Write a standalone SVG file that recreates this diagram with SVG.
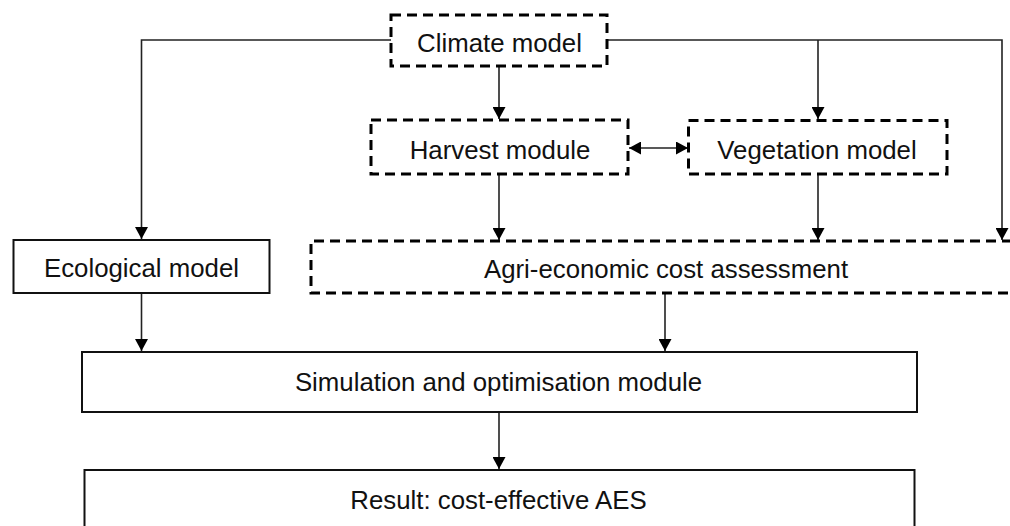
<svg xmlns="http://www.w3.org/2000/svg" width="1010" height="526" viewBox="0 0 1010 526">
<style>
.lbl{font-family:"Liberation Sans",Arial,sans-serif;font-size:25.8px;fill:#111;text-anchor:middle}
.dash{fill:#fff;stroke:#000;stroke-width:3;stroke-dasharray:10 6}
.solid{fill:#fff;stroke:#111;stroke-width:2}
.conn{fill:none;stroke:#222;stroke-width:1.6}
</style>
<defs>
<marker id="arr" markerUnits="userSpaceOnUse" markerWidth="12" markerHeight="13" refX="12" refY="6.5" orient="auto-start-reverse" viewBox="0 0 12 13">
<path d="M0,0 L12,6.5 L0,13 z" fill="#000"/>
</marker>
</defs>
<rect width="1010" height="526" fill="#fff"/>
<g id="connectors">
<path class="conn" d="M391,40 H141.5 V239" marker-end="url(#arr)"/>
<path class="conn" d="M608,40 H1002 V240" marker-end="url(#arr)"/>
<path class="conn" d="M818,40 V119" marker-end="url(#arr)"/>
<path class="conn" d="M499,66 V119" marker-end="url(#arr)"/>
<path class="conn" d="M499,175 V240" marker-end="url(#arr)"/>
<path class="conn" d="M818,175 V240" marker-end="url(#arr)"/>
<path class="conn" d="M629,148 H688" marker-start="url(#arr)" marker-end="url(#arr)"/>
<path class="conn" d="M141.5,293 V351" marker-end="url(#arr)"/>
<path class="conn" d="M665,293 V351" marker-end="url(#arr)"/>
<path class="conn" d="M499,412 V469" marker-end="url(#arr)"/>
</g>
<g id="climate">
<rect class="dash" x="391" y="15" width="216" height="51"/>
<text class="lbl" x="499.5" y="52">Climate model</text>
</g>
<g id="harvest">
<rect class="dash" x="371" y="120" width="257" height="54"/>
<text class="lbl" x="500" y="158.5">Harvest module</text>
</g>
<g id="vegetation">
<rect class="dash" x="688.5" y="120.5" width="258.5" height="53.5"/>
<text class="lbl" x="817" y="158.5">Vegetation model</text>
</g>
<g id="ecological">
<rect class="solid" x="13.5" y="240" width="256" height="53"/>
<text class="lbl" x="141.5" y="276.5">Ecological model</text>
</g>
<g id="agri">
<path class="dash" d="M1012,241 H311 V293 H1012"/>
<text class="lbl" x="666" y="278">Agri-economic cost assessment</text>
</g>
<g id="simulation">
<rect class="solid" x="82" y="352" width="835" height="60"/>
<text class="lbl" x="498.5" y="390.5">Simulation and optimisation module</text>
</g>
<g id="result">
<rect class="solid" x="84.5" y="470" width="830" height="80"/>
<text class="lbl" x="498.5" y="509">Result: cost-effective AES</text>
</g>
</svg>
